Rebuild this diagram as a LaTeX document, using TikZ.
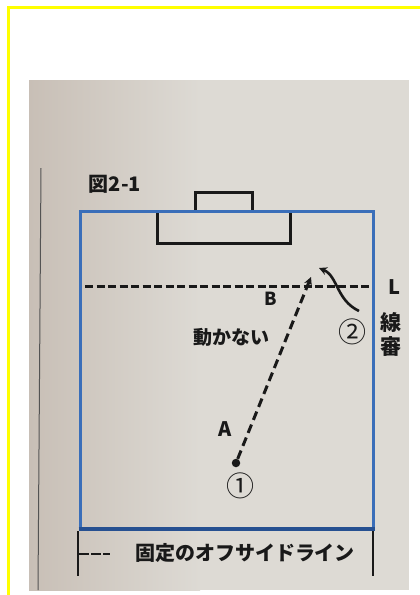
\documentclass[tikz,border=0pt]{standalone}
\usepackage{fontspec}
\setmainfont{Noto Sans CJK JP}
\usetikzlibrary{arrows.meta}
\definecolor{paperL}{RGB}{200,191,182}
\definecolor{paperR}{RGB}{221,218,212}
\definecolor{fieldblue}{RGB}{58,110,185}
\definecolor{fielddark}{RGB}{38,80,145}
\definecolor{ink}{RGB}{25,25,25}
\definecolor{frameyellow}{RGB}{255,255,0}
\begin{document}
\begin{tikzpicture}[x=1pt,y=-1pt,
  txt/.style={inner sep=0pt, text=ink, font=\fontsize{19}{19}\selectfont\bfseries},
  latin/.style={inner sep=0pt, text=ink, font=\fontsize{20}{20}\selectfont\bfseries},
  circnum/.style={inner sep=0pt, text=ink, font=\fontsize{28}{28}\selectfont},
  offside/.style={draw=ink, line width=3pt, dash pattern=on 8pt off 3.5pt},
  runline/.style={draw=ink, line width=3pt, dash pattern=on 9pt off 5pt},
  goalbox/.style={draw=ink, line width=3pt},
  fieldline/.style={draw=fieldblue, line width=3pt},
  legendline/.style={draw=ink, line width=2.2pt},
  tip/.style={-{Stealth[length=8pt,width=8pt]}}
]
\useasboundingbox (0,0) rectangle (420,595);
\fill[white] (0,0) rectangle (420,595);
\draw[frameyellow, line width=3pt] (8.5,595) -- (8.5,7.5) -- (420,7.5);
% photo paper
\shade[left color=paperL, right color=paperR] (29,80) rectangle (200,590);
\fill[paperR] (199.5,80) rectangle (409,590);
% margin rule
\draw[ink!75, line width=1pt] (41,168) -- (38,590);
% title
\node[txt, font=\fontsize{20}{20}\selectfont\bfseries] (title) at (115,184) {図2-1};
% goal and goal area
\draw[goalbox] (195,211) -- (195,192) -- (252,192) -- (252,211);
\draw[goalbox] (157,211) -- (157,243) -- (290,243) -- (290,211);
% field
\draw[fieldline] (80,529) -- (80,211) -- (373,211) -- (373,529);
\draw[draw=fielddark, line width=4.5pt] (78.5,529) -- (374.5,529);
% offside line
\draw[offside] (85,286) -- (371,286);
% labels
\node[latin] (lblL) at (394,287) {L};
\node[txt, font=\fontsize{21}{21}\selectfont\bfseries] (sen) at (391,322) {線};
\node[txt, font=\fontsize{21}{21}\selectfont\bfseries] (shin) at (391,347) {審};
\node[latin, font=\fontsize{18}{18}\selectfont\bfseries] (lblB) at (271,299) {B};
\node[latin] (lblA) at (225,429) {A};
\node[txt] (ugokanai) at (231,337) {動かない};
% players
\node[circle, fill=ink, inner sep=0pt, minimum size=8.5pt] (dot) at (236,463) {};
\node[circnum] (p1) at (240,486) {①};
\node[circnum] (p2) at (352,332) {②};
\coordinate (runend) at (311,277);
\coordinate (curvestart) at (359,311);
\coordinate (curveend) at (319,268);
\draw[runline, tip] (dot) -- (runend);
\draw[ink, line width=2.6pt, tip] (curvestart) .. controls (336,300) and (338,276) .. (curveend);
% legend
\draw[legendline] (78,531) -- (78,576);
\draw[legendline] (373,531) -- (373,576);
\draw[ink, line width=2.4pt, dash pattern=on 10pt off 2pt] (79,554) -- (110,554);
\node[txt, font=\fontsize{20}{20}\selectfont\bfseries] (legend) at (245,553) {固定のオフサイドライン};
\end{tikzpicture}
\end{document}
